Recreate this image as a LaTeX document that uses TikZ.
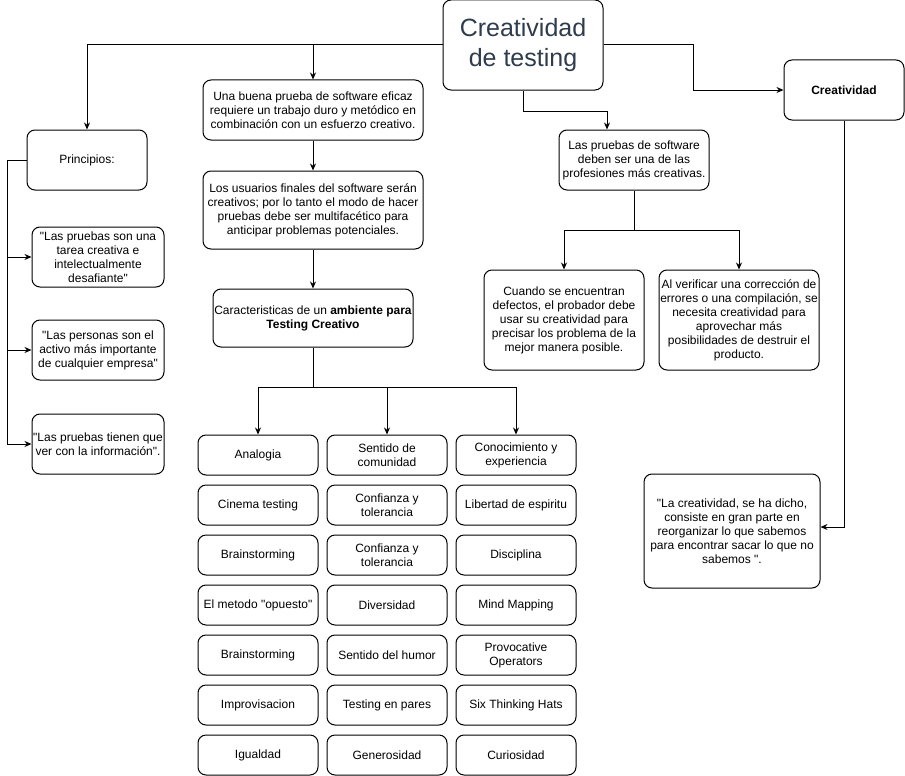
\documentclass[tikz,border=0pt]{standalone}
\usepackage{fontspec}
\setmainfont{Liberation Sans}[Ligatures = TeXOff]
\usetikzlibrary{arrows.meta, positioning}
\definecolor{titletext}{RGB}{47,60,77}

\begin{document}
\begin{tikzpicture} [x = 1pt, y = -1pt, line width = 1pt, >= {Stealth[length = 7pt, width = 6pt]},
  every node/.style = {font = \fontsize{12}{14}\selectfont, align = center},
  rbox/.style = {draw, rounded corners = 8pt, inner sep = 0pt},
  cell/.style = {rbox, minimum width = 120pt, minimum height = 40pt}]
\useasboundingbox (0,0) rectangle (905,776);
\node[rbox, minimum width = 160pt, minimum height = 90pt, text = titletext, font = \fontsize{25}{30}\selectfont](t) at (523,45) {Creatividad\\de testing};
\node[rbox, minimum width = 120pt, minimum height = 60pt](p0) at (87,160) {Principios:};
\node[rbox, minimum width = 132pt, minimum height = 60pt](p1) at (98,257) {"Las pruebas son una\\tarea creativa e\\intelectualmente\\desafiante"};
\node[rbox, minimum width = 132pt, minimum height = 60pt](p2) at (98,350) {"Las personas son el\\activo más importante\\de cualquier empresa"};
\node[rbox, minimum width = 132pt, minimum height = 60pt](p3) at (98,444) {"Las pruebas tienen que\\ver con la información".};
\node[rbox, minimum width = 220pt, minimum height = 60pt](m1) at (313,110) {Una buena prueba de software eficaz\\requiere un trabajo duro y metódico en\\combinación con un esfuerzo creativo.};
\node[rbox, minimum width = 220pt, minimum height = 78pt, below = 30pt of m1](m2) {Los usuarios finales del software serán\\creativos; por lo tanto el modo de hacer\\pruebas debe ser multifacético para\\anticipar problemas potenciales.};
\node[rbox, minimum width = 200pt, minimum height = 58pt, below = 39pt of m2](m3) {Caracteristicas de un \textbf{ambiente para}\\\textbf{Testing Creativo}};
\matrix (g) [column sep = 8pt, row sep = 9pt, anchor = north west, inner sep = 0pt] at (197,434) {
\node[cell](g11){Analogia}; & \node[cell](g12){Sentido de\\comunidad}; & \node[cell](g13){Conocimiento y\\experiencia}; \\
\node[cell](g21){Cinema testing}; & \node[cell](g22){Confianza y\\tolerancia}; & \node[cell](g23){Libertad de espiritu}; \\
\node[cell](g31){Brainstorming}; & \node[cell](g32){Confianza y\\tolerancia}; & \node[cell](g33){Disciplina}; \\
\node[cell](g41){El metodo "opuesto"}; & \node[cell](g42){Diversidad}; & \node[cell](g43){Mind Mapping}; \\
\node[cell](g51){Brainstorming}; & \node[cell](g52){Sentido del humor}; & \node[cell](g53){Provocative\\Operators}; \\
\node[cell](g61){Improvisacion}; & \node[cell](g62){Testing en pares}; & \node[cell](g63){Six Thinking Hats}; \\
\node[cell](g71){Igualdad}; & \node[cell](g72){Generosidad}; & \node[cell](g73){Curiosidad}; \\
};
\node[rbox, minimum width = 150pt, minimum height = 60pt](r1) at (634,160) {Las pruebas de software\\deben ser una de las\\profesiones más creativas.};
\node[rbox, minimum width = 160pt, minimum height = 100pt](r2) at (564,320) {Cuando se encuentran\\defectos, el probador debe\\usar su creatividad para\\precisar los problema de la\\mejor manera posible.};
\node[rbox, minimum width = 160pt, minimum height = 100pt](r3) at (739,320) {Al verificar una corrección de\\errores o una compilación, se\\necesita creatividad para\\aprovechar más\\posibilidades de destruir el\\producto.};
\node[rbox, minimum width = 120pt, minimum height = 60pt, font = \fontsize{12}{14}\selectfont\bfseries](c0) at (844,90) {Creatividad};
\node[rbox, minimum width = 176pt, minimum height = 114pt](c1) at (732,531) {"La creatividad, se ha dicho,\\consiste en gran parte en\\reorganizar lo que sabemos\\para encontrar sacar lo que no\\sabemos ".};
\draw[->] (t.west) -| (p0.north);
\draw (p0.west) -- ++(-19,0) coordinate (pl);
\draw[->] (pl) |- (p1.west);
\draw[->] (pl) |- (p2.west);
\draw[->] (pl) |- (p3.west);
\draw[->] (t.west -| m1.north) -- (m1.north);
\draw[->] (m1) -- (m2);
\draw[->] (m2) -- (m3);
\draw (m3.south) -- ++(0,40) coordinate (mj);
\draw[->] (mj) -| (g11.north);
\draw[->] (mj -| g12.north) -- (g12.north);
\draw[->] (mj) -| (g13.north);
\draw[->] (t.east) -- ++(90,0) |- (c0.west);
\draw[->] (t.south) -- ++(0,21) -| ([xshift = -27pt]r1.north);
\draw (r1.south) -- ++(0,40) coordinate (rj);
\draw[->] (rj) -| (r2.north);
\draw[->] (rj) -| (r3.north);
\draw[->] (c0.south) |- ([yshift = 4pt]c1.east);
\end{tikzpicture}
\end{document}
